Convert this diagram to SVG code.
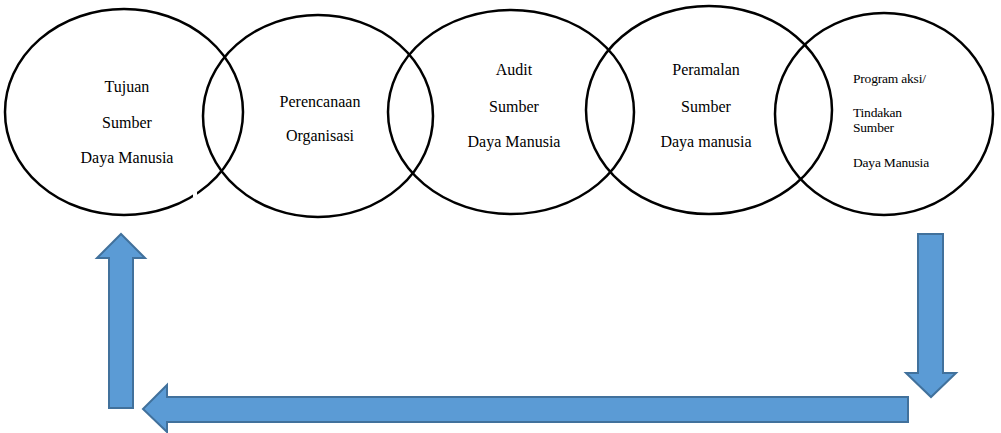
<svg xmlns="http://www.w3.org/2000/svg" width="1001" height="433" viewBox="0 0 1001 433">
<style>
.c{fill:none;stroke:#000;stroke-width:2.5}
.t{font-family:"Liberation Serif",serif;font-size:16px;fill:#000;text-anchor:middle}
.s{font-family:"Liberation Serif",serif;font-size:13.5px;fill:#000;letter-spacing:-0.2px}
.a{fill:#5B9BD5;stroke:#41719C;stroke-width:2}
</style>
<rect width="1001" height="433" fill="#fff"/>
<g id="n1">
<ellipse class="c" cx="124" cy="112" rx="119" ry="103"/>
<rect x="193" y="191" width="4" height="6" fill="#fff"/>
<text class="t" x="127" y="92">Tujuan</text>
<text class="t" x="127" y="128">Sumber</text>
<text class="t" x="127" y="163">Daya Manusia</text>
</g>
<g id="n2">
<ellipse class="c" cx="318" cy="116" rx="115" ry="101"/>
<text class="t" x="320" y="107">Perencanaan</text>
<text class="t" x="320" y="141">Organisasi</text>
</g>
<g id="n3">
<ellipse class="c" cx="511" cy="112" rx="123" ry="102"/>
<text class="t" x="514" y="75">Audit</text>
<text class="t" x="514" y="112">Sumber</text>
<text class="t" x="514" y="147">Daya Manusia</text>
</g>
<g id="n4">
<ellipse class="c" cx="709" cy="110" rx="123" ry="104"/>
<text class="t" x="706" y="75">Peramalan</text>
<text class="t" x="706" y="112">Sumber</text>
<text class="t" x="706" y="147">Daya manusia</text>
</g>
<g id="n5">
<ellipse class="c" cx="884" cy="114" rx="109" ry="101"/>
<text class="s" x="853" y="83">Program aksi/</text>
<text class="s" x="853" y="117">Tindakan</text>
<text class="s" x="853" y="132">Sumber</text>
<text class="s" x="853" y="167">Daya Manusia</text>
</g>
<g id="connectors">
<polygon class="a" points="918,234 943,234 943,373 956,373 931,397 906,373 918,373"/>
<polygon class="a" points="908,397 908,422 167,422 167,432 143,409 167,385 167,397"/>
<polygon class="a" points="109,408 133,408 133,258 145,258 121,234 97,258 109,258"/>
</g>
</svg>
